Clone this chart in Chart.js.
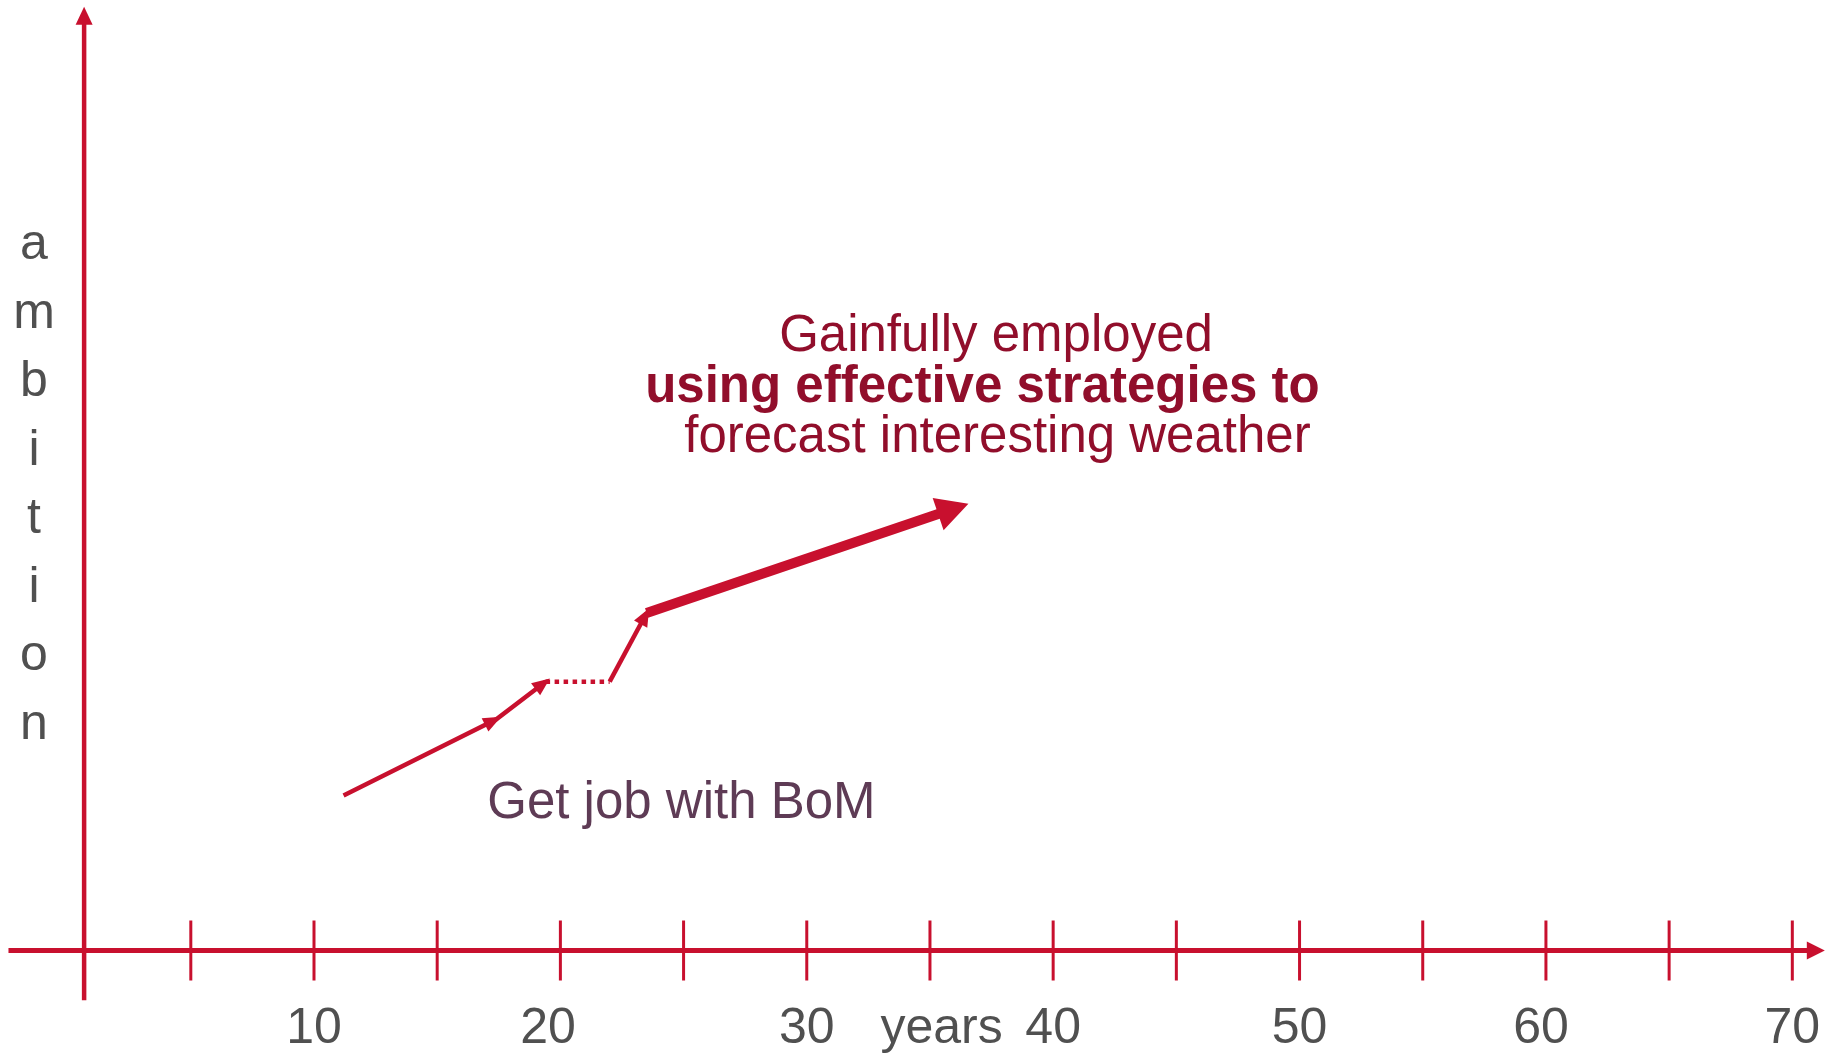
<!DOCTYPE html>
<html lang="en">
<head>
    <meta charset="UTF-8">
    <title>Ambition over the years</title>
    <script src="https://cdn.jsdelivr.net/npm/chart.js"></script>
    <style>
        body {
            margin: 0;
            padding: 0;
            background: #ffffff;
            overflow: hidden;
        }
        .wrap {
            width: 1831px;
            height: 1054px;
            position: relative;
        }
    </style>
</head>
<body>
    <div class="wrap">
        <canvas id="careerChart"></canvas>
    </div>

    <script>
        // path of the career
        const years = [11.2, 17.4, 19.4, 22.0, 23.5, 36.2];
        const ambition = [16.5, 24.6, 28.6, 28.6, 35.9, 47.2];
        // kind of each step between two points
        const steps = ['arrow', 'arrow', 'dotted', 'arrow', 'bigArrow'];

        const tickYears = [5, 10, 15, 20, 25, 30, 35, 40, 45, 50, 55, 60, 65, 70];
        const labelYears = [10, 19.5, 30, 40, 50, 59.8, 70];
        const labelTexts = ['10', '20', '30', '40', '50', '60', '70'];

        const RED = '#c8102e';
        const DARKRED = '#910e2b';
        const GREY = '#505050';
        const FONT = '"Liberation Sans", Arial, sans-serif';

        const axesPlugin = {
            id: 'axesPlugin',
            beforeDatasetsDraw(chart) {
                const ctx = chart.ctx;
                const x = chart.scales.x, y = chart.scales.y;
                const x0 = x.getPixelForValue(0.67);
                const y0 = y.getPixelForValue(0);
                ctx.save();
                ctx.strokeStyle = RED;
                ctx.fillStyle = RED;

                // x axis with arrow
                let tip = x.getPixelForValue(71.32);
                ctx.lineWidth = 5;
                ctx.beginPath();
                ctx.moveTo(x.getPixelForValue(-2.4), y0);
                ctx.lineTo(tip - 16, y0);
                ctx.stroke();
                ctx.beginPath();
                ctx.moveTo(tip, y0);
                ctx.lineTo(tip - 18, y0 - 9);
                ctx.lineTo(tip - 18, y0 + 9);
                ctx.closePath();
                ctx.fill();

                // y axis with arrow
                tip = y.getPixelForValue(100.4);
                ctx.lineWidth = 4.5;
                ctx.beginPath();
                ctx.moveTo(x0, y.getPixelForValue(-5.3));
                ctx.lineTo(x0, tip + 15);
                ctx.stroke();
                ctx.beginPath();
                ctx.moveTo(x0, tip);
                ctx.lineTo(x0 - 8.5, tip + 18);
                ctx.lineTo(x0 + 8.5, tip + 18);
                ctx.closePath();
                ctx.fill();

                // tick marks
                ctx.lineWidth = 3;
                tickYears.forEach(v => {
                    const px = x.getPixelForValue(v);
                    ctx.beginPath();
                    ctx.moveTo(px, y0 - 30);
                    ctx.lineTo(px, y0 + 30);
                    ctx.stroke();
                });

                // tick labels
                ctx.fillStyle = GREY;
                ctx.font = '50px ' + FONT;
                ctx.textAlign = 'center';
                ctx.textBaseline = 'alphabetic';
                labelYears.forEach((v, i) => {
                    ctx.fillText(labelTexts[i], x.getPixelForValue(v), y0 + 92);
                });
                ctx.fillText('years', x.getPixelForValue(35.47), y0 + 92);

                // y title, one letter per line
                const word = 'ambition';
                for (let i = 0; i < word.length; i++) {
                    ctx.fillText(word[i], 34, 259 + i * 68.5);
                }
                ctx.restore();
            },
            afterDatasetsDraw(chart) {
                const ctx = chart.ctx;
                const meta = chart.getDatasetMeta(0);
                ctx.save();
                ctx.fillStyle = RED;
                steps.forEach((kind, i) => {
                    if (kind === 'dotted') return;
                    const a = meta.data[i], b = meta.data[i + 1];
                    const big = kind === 'bigArrow';
                    const len = big ? 32 : 18;
                    const half = big ? 17 : 7.5;
                    const lw = big ? 10 : 4.5;
                    const ang = Math.atan2(b.y - a.y, b.x - a.x);
                    const ext = lw / 2 * len / half;
                    const tx = b.x + Math.cos(ang) * ext;
                    const ty = b.y + Math.sin(ang) * ext;
                    const bx = tx - Math.cos(ang) * len;
                    const by = ty - Math.sin(ang) * len;
                    ctx.beginPath();
                    ctx.moveTo(tx, ty);
                    ctx.lineTo(bx - Math.sin(ang) * half, by + Math.cos(ang) * half);
                    ctx.lineTo(bx + Math.sin(ang) * half, by - Math.cos(ang) * half);
                    ctx.closePath();
                    ctx.fill();
                });
                ctx.restore();
            },
            afterDraw(chart) {
                const ctx = chart.ctx;
                const x = chart.scales.x, y = chart.scales.y;
                ctx.save();
                ctx.textBaseline = 'alphabetic';

                ctx.fillStyle = '#5e3b55';
                ctx.font = '51px ' + FONT;
                ctx.textAlign = 'left';
                ctx.fillText('Get job with BoM', x.getPixelForValue(17.03), y.getPixelForValue(14.1));

                ctx.fillStyle = DARKRED;
                ctx.textAlign = 'center';
                ctx.font = '51px ' + FONT;
                ctx.fillText('Gainfully employed', x.getPixelForValue(37.68), y.getPixelForValue(63.8));
                ctx.font = 'bold 51px ' + FONT;
                ctx.fillText('using effective strategies to', x.getPixelForValue(37.13), y.getPixelForValue(58.4));
                ctx.font = '51px ' + FONT;
                ctx.fillText('forecast interesting weather', x.getPixelForValue(37.74), y.getPixelForValue(53.0));
                ctx.restore();
            }
        };

        window.onload = function() {
            const ctx = document.getElementById('careerChart').getContext('2d');
            new Chart(ctx, {
                type: 'line',
                data: {
                    datasets: [{
                        data: years.map((v, i) => ({ x: v, y: ambition[i] })),
                        borderColor: RED,
                        borderWidth: 4.5,
                        borderCapStyle: 'butt',
                        pointRadius: 0,
                        tension: 0,
                        segment: {
                            borderWidth: c => steps[c.p0DataIndex] === 'bigArrow' ? 10 : 4.5,
                            borderDash: c => steps[c.p0DataIndex] === 'dotted' ? [4.5, 4.5] : []
                        }
                    }]
                },
                options: {
                    responsive: true,
                    maintainAspectRatio: false,
                    animation: false,
                    layout: { padding: 0 },
                    plugins: {
                        legend: { display: false },
                        tooltip: { enabled: false }
                    },
                    scales: {
                        x: { type: 'linear', min: -2.744, max: 71.57, display: false },
                        y: { type: 'linear', min: -11.01, max: 101.12, display: false }
                    }
                },
                plugins: [axesPlugin]
            });
        };
    </script>
</body>
</html>
